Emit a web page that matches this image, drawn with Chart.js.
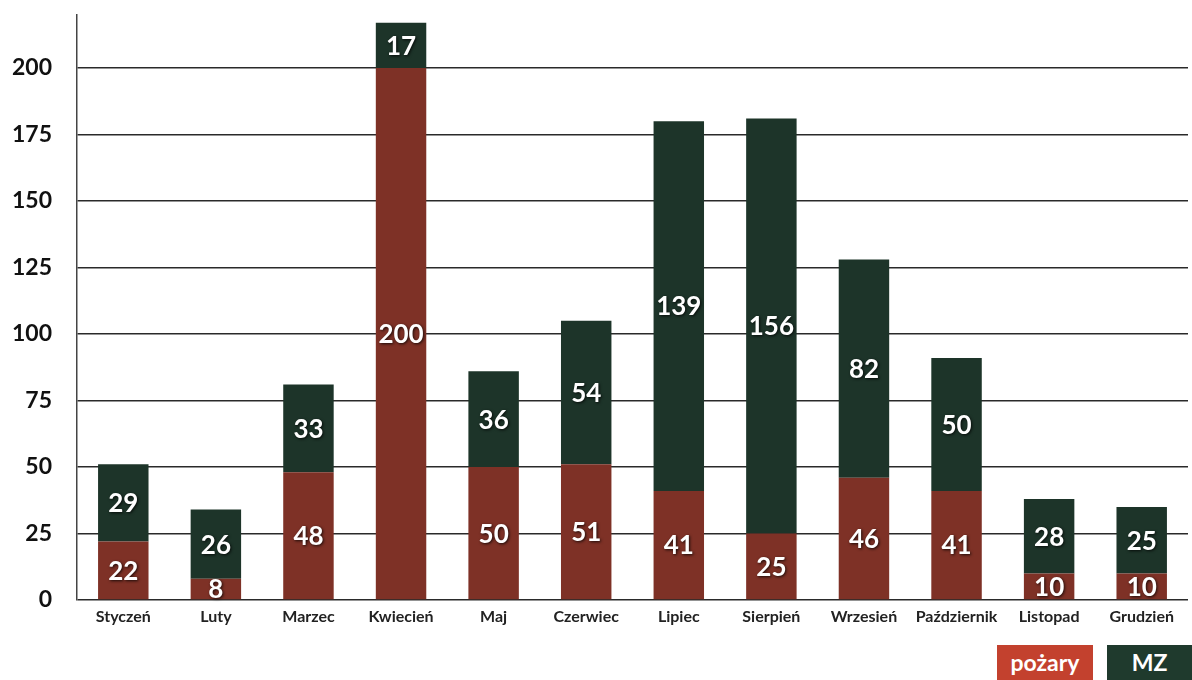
<!DOCTYPE html>
<html>
<head>
<meta charset="utf-8">
<script src="https://cdn.jsdelivr.net/npm/chart.js@4/dist/chart.umd.min.js"></script>
<style>
  html, body { margin: 0; padding: 0; background: #fff; }
  #wrap { position: relative; width: 1192px; height: 680px; overflow: hidden; }
  #c { position: absolute; left: 0; top: -24px; }
  .lg { position: absolute; top: 645px; height: 36px; color: #fff; font: bold 23px Lato, sans-serif;
        text-align: center; line-height: 34px; }
</style>
</head>
<body>
<div id="wrap">
  <canvas id="c" width="1192" height="704"></canvas>
  <div class="lg" style="left:997px;width:96px;background:#c3412e;">pożary</div>
  <div class="lg" style="left:1107px;width:85px;background:#1f3a2d;">MZ</div>
</div>
<script>
const months = ['Styczeń','Luty','Marzec','Kwiecień','Maj','Czerwiec','Lipiec','Sierpień','Wrzesień','Październik','Listopad','Grudzień'];
const pozary = [22, 8, 48, 200, 50, 51, 41, 25, 46, 41, 10, 10];
const mz = [29, 26, 33, 17, 36, 54, 139, 156, 82, 50, 28, 25];
const yTicks = [0, 25, 50, 75, 100, 125, 150, 175, 200];

const FONT = 'Lato, "Open Sans", sans-serif';

const labelPlugin = {
  id: 'segLabels',
  afterDatasetsDraw(chart) {
    const ctx = chart.ctx;
    ctx.save();
    ctx.font = 'bold 26px ' + FONT;
    ctx.textAlign = 'center';
    ctx.textBaseline = 'middle';
    chart.data.datasets.forEach((ds, di) => {
      const meta = chart.getDatasetMeta(di);
      meta.data.forEach((el, i) => {
        const p = el.getProps(['x', 'y', 'base'], true);
        const cy = (p.y + p.base) / 2;
        ctx.shadowColor = 'rgba(0,0,0,0.8)';
        ctx.shadowBlur = 3;
        ctx.shadowOffsetX = 1;
        ctx.shadowOffsetY = 1;
        ctx.fillStyle = '#ffffff';
        ctx.fillText(String(ds.data[i]), p.x, cy + 1);
      });
    });
    ctx.restore();
  }
};

new Chart(document.getElementById('c'), {
  type: 'bar',
  data: {
    labels: months,
    datasets: [
      { label: 'pożary', data: pozary, backgroundColor: '#7e3126', borderWidth: 0 },
      { label: 'MZ', data: mz, backgroundColor: '#1d3429', borderWidth: 0 }
    ]
  },
  options: {
    responsive: false,
    animation: false,
    devicePixelRatio: 1,
    layout: { padding: { top: 13, right: 4, left: 0, bottom: 0 } },
    datasets: { bar: { categoryPercentage: 1, barPercentage: 0.545 } },
    plugins: { legend: { display: false }, tooltip: { enabled: false } },
    scales: {
      x: {
        stacked: true,
        grid: { display: false, drawTicks: false },
        border: { display: false },
        ticks: { color: '#222', font: { family: FONT, size: 16, weight: 'bold' }, padding: 7, maxRotation: 0, autoSkip: false },
        afterFit(s) { s.height = 80; }
      },
      y: {
        stacked: true,
        min: 0,
        max: 220,
        afterBuildTicks(s) { s.ticks = yTicks.map(v => ({ value: v })); },
        grid: { color: '#2a2a2a', lineWidth: 1.5, drawTicks: false },
        border: { display: true, color: '#444', width: 1.5 },
        ticks: { color: '#111', font: { family: FONT, size: 23, weight: 'bold' }, padding: 25 },
        afterFit(s) { s.width = 77; }
      }
    }
  },
  plugins: [labelPlugin]
});
</script>
</body>
</html>
